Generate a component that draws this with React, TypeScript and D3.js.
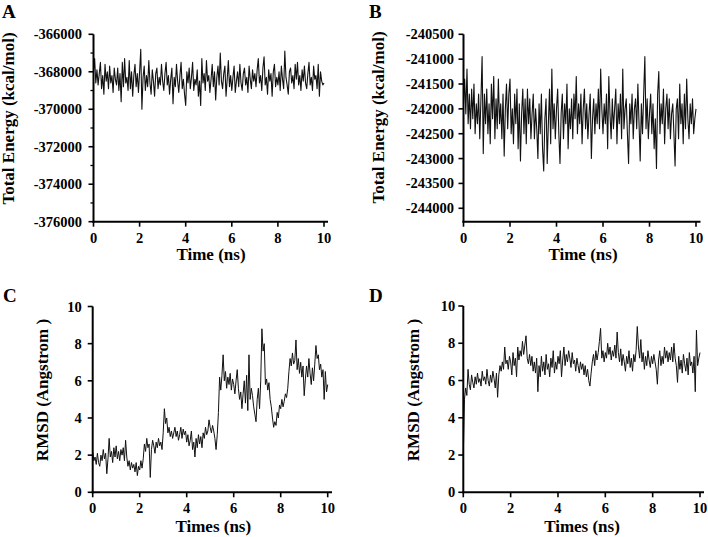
import React from "react";
import * as d3 from "d3";

// ---- Data ----
const TIME_STEP_NS = 0.05;

const energyA = [
  -368000, -367300, -368600, -367900, -368700, -368100, -367500, -368900, -368200, -369200, -367600, -368500, -368000, -368900, -367700, -368600, -368200, -369100, -367800, -368400,
  -368700, -367800, -369000, -368100, -369600, -367500, -368800, -367300, -368600, -368300, -369000, -367400, -368900, -368000, -369300, -368200, -367600, -368800, -368100, -369100,
  -368000, -366800, -370000, -368300, -367700, -369000, -368200, -368800, -367400, -368600, -369200, -367900, -368500, -369300, -368100, -367800, -368900, -368300, -368700, -367600,
  -368500, -369000, -368100, -367500, -368700, -368200, -369200, -368400, -367800, -369700, -368300, -368800, -367600, -368500, -369100, -368200, -367500, -368900, -368400, -369200,
  -369800, -368000, -368600, -367800, -368900, -368300, -367500, -369000, -368400, -368700, -367900, -369300, -368500, -369800, -367300, -368600, -368100, -369000, -367400, -368500,
  -368200, -369100, -368400, -367600, -368800, -368000, -369500, -368300, -367700, -368700, -367000, -368500, -368900, -368100, -367700, -369300, -368400, -367400, -368800, -368200,
  -369000, -368300, -367700, -369100, -368500, -368000, -368800, -367600, -368600, -369000, -368100, -367800, -368700, -368300, -369100, -367700, -368400, -368900, -367900, -368500,
  -368100, -368800, -367900, -367300, -368600, -368200, -369000, -367800, -367200, -368700, -368300, -369200, -367900, -368500, -368100, -369300, -368000, -367600, -368800, -368300,
  -368700, -368000, -369000, -367700, -368400, -368900, -366900, -368300, -368700, -369200, -368000, -367800, -368600, -368200, -368900, -367600, -368400, -367500, -368700, -368200,
  -369000, -367900, -368500, -367700, -368600, -368900, -368100, -367500, -368700, -368300, -369000, -367700, -368400, -368200, -368900, -367600, -369300, -368000, -368500, -368700, -368600,
];

const energyB = [
  -241900, -241400, -242100, -241200, -242300, -241700, -242400, -241600, -242200, -241500, -242500, -241900, -242300, -241700, -242600, -241800, -240950, -242900, -241700, -242300,
  -241600, -242500, -241900, -242700, -241500, -242200, -241350, -242600, -241800, -242400, -241400, -242300, -241900, -242600, -241700, -242950, -242000, -241500, -242400, -241700,
  -241400, -242500, -242000, -242700, -241700, -242300, -241600, -242800, -241900, -243050, -242100, -241600, -242500, -241800, -242700, -241600, -242300, -241800, -242600, -242100,
  -241700, -242600, -242000, -242400, -243000, -241900, -242500, -241700, -242800, -243250, -242200, -241800, -243100, -242300, -241600, -242700, -241200, -242400, -241900, -242600,
  -242000, -241600, -242500, -243100, -242100, -241700, -242600, -241900, -242300, -241500, -242800, -242000, -242400, -241800, -242600, -241700, -242200, -241350, -242500, -241900,
  -242300, -241700, -242700, -242000, -241600, -242400, -241900, -242600, -242100, -241700, -243000, -242200, -241800, -242500, -241900, -242300, -241600, -242400, -241200, -242000,
  -242500, -241900, -242300, -241700, -242800, -241350, -242100, -242600, -241800, -242400, -242000, -241600, -242700, -241900, -242300, -241700, -242600, -241200, -242400, -242000,
  -241800, -242500, -243100, -241900, -242300, -241700, -242600, -242000, -241800, -242400, -241500, -242300, -243050, -241900, -242500, -241700, -240950, -242400, -241800, -242600,
  -242100, -241700, -242500, -241900, -242800, -242200, -243200, -241700, -241250, -242500, -241900, -242300, -241600, -242700, -242000, -241700, -242400, -241800, -242600, -242100,
  -241900, -242500, -243150, -242000, -241800, -242600, -241500, -242300, -241900, -242700, -241700, -242400, -241400, -242200, -242600, -241900, -242300, -241800, -242500, -242200, -242000,
];

const rmsdC = [
  2.2, 1.7, 1.9, 1.5, 2.1, 1.6, 1.4, 2.0, 1.7, 2.3, 1.8, 2.1, 1.0, 1.8, 2.9, 1.9, 2.2, 1.6, 2.4, 1.9,
  2.5, 1.8, 2.2, 1.7, 2.3, 2.0, 2.4, 1.7, 2.8, 1.9, 1.4, 1.7, 1.2, 1.6, 1.3, 1.5, 1.1, 1.6, 0.9, 1.4,
  1.2, 1.7, 1.3, 1.8, 2.6, 2.2, 2.9, 2.4, 2.6, 0.8, 2.3, 2.8, 2.5, 2.1, 2.7, 2.4, 2.9, 2.5, 2.7, 2.3,
  3.2, 4.5, 3.7, 4.0, 3.2, 3.5, 3.0, 3.3, 2.9, 3.2, 3.5, 3.0, 3.3, 2.8, 3.1, 3.5, 2.9, 3.4, 3.1, 3.3,
  2.7, 3.1, 2.5, 2.8, 3.3, 2.3, 2.7, 1.9, 2.9, 2.4, 3.1, 2.6, 3.0, 2.4, 3.2, 2.9, 3.5, 3.1, 3.3, 3.9,
  3.5, 3.2, 3.6, 3.3, 2.9, 2.3, 3.1, 4.3, 6.2, 5.5, 6.3, 7.4, 6.0, 6.5, 5.6, 6.2, 5.8, 6.4, 5.5, 6.1,
  5.8, 5.3, 6.0, 6.6, 5.6, 5.0, 5.4, 4.5, 5.3, 6.0, 4.8, 6.3, 4.4, 7.4, 5.0, 5.6, 5.2, 4.6, 4.2, 3.8,
  5.0, 5.6, 4.5, 6.0, 8.8, 7.6, 8.0, 5.8, 6.1, 5.5, 5.9, 5.0, 4.6, 4.0, 3.5, 3.8, 3.6, 4.3, 4.0, 4.7,
  4.5, 5.0, 4.6, 4.9, 5.3, 5.1, 5.6, 6.5, 7.2, 6.8, 7.5, 6.9, 7.1, 8.2, 6.6, 7.2, 6.4, 7.0, 6.2, 6.8,
  5.2, 6.1, 6.8, 6.2, 7.2, 6.4, 5.8, 6.7, 6.0, 6.9, 7.9, 7.2, 7.4, 6.6, 6.9, 6.2, 6.6, 5.0, 6.5, 5.4, 5.8,
];

const rmsdD = [
  2.0, 5.0, 5.6, 5.2, 6.6, 5.8, 5.5, 6.3, 5.9, 5.6, 6.2, 5.8, 6.4, 5.9, 6.1, 5.7, 6.5, 6.0, 6.2, 5.8,
  6.6, 6.0, 5.7, 6.3, 5.9, 6.5, 6.1, 5.6, 6.4, 5.1, 6.3, 6.8, 6.5, 7.0, 6.6, 7.8, 6.9, 7.1, 6.6, 7.3,
  7.0, 6.3, 7.5, 6.8, 7.2, 6.2, 7.8, 7.1, 7.6, 7.3, 8.1, 7.4, 7.9, 8.4, 7.2, 6.9, 7.4, 6.8, 7.3, 6.5,
  7.0, 6.4, 7.2, 5.4, 6.8, 6.2, 7.3, 6.5, 7.0, 6.3, 7.4, 6.6, 6.9, 6.2, 7.2, 6.7, 7.6, 6.4, 7.0, 6.6,
  7.3, 6.9, 7.6, 6.2, 7.1, 7.8, 6.8, 7.4, 7.0, 7.6, 7.2, 6.7, 7.5, 6.9, 7.1, 6.5, 7.2, 6.8, 6.4, 7.0,
  6.6, 6.9, 6.3, 6.8, 6.2, 6.6, 6.0, 5.7, 6.4, 7.0, 7.4, 6.8, 7.6, 7.1, 7.5, 8.1, 8.8, 7.2, 7.6, 7.0,
  7.5, 7.2, 8.0, 7.4, 7.8, 7.1, 7.6, 7.3, 7.9, 7.2, 8.6, 7.5, 7.0, 7.7, 6.8, 7.4, 7.0, 6.5, 7.3, 6.9,
  7.6, 6.7, 7.2, 6.5, 7.4, 7.0, 7.6, 8.9, 7.8, 7.2, 8.2, 7.0, 7.5, 6.6, 7.3, 6.8, 7.6, 7.1, 6.7, 7.3,
  6.9, 7.4, 7.0, 6.6, 5.8, 7.1, 7.6, 6.8, 7.3, 6.9, 7.8, 7.2, 7.6, 7.0, 7.5, 7.1, 7.8, 7.0, 8.0, 7.2,
  6.8, 5.9, 7.3, 6.6, 7.1, 6.4, 7.4, 6.9, 6.5, 7.2, 6.3, 7.5, 6.8, 7.0, 6.4, 7.3, 5.4, 8.7, 6.8, 7.2, 7.5,
];

const xTicks = [0, 2, 4, 6, 8, 10];
const yTicksA = [-376000, -374000, -372000, -370000, -368000, -366000];
const yMinorA = [-375000, -373000, -371000, -369000, -367000];
const yTicksB = [-244000, -243500, -243000, -242500, -242000, -241500, -241000, -240500];
const yTicksRmsd = [0, 2, 4, 6, 8, 10];

const FONT = "'Liberation Serif', 'Times New Roman', Times, serif";

type PanelProps = {
  letter: string;
  letterX: number;
  letterY: number;
  values: number[];
  yDomain: [number, number];
  yTicks: number[];
  yMinor?: number[];
  xLeft: number;
  xRight: number;
  axisEnd: number;
  yBottom: number;
  yTop: number;
  labelGap: number;
  xLabelY: number;
  xTitle: string;
  xTitleX: number;
  xTitleY: number;
  yTitle: string;
  yTitleX: number;
  yTitleY: number;
  lineWidth: number;
};

function Panel(p: PanelProps) {
  const x = d3.scaleLinear().domain([0, 10]).range([p.xLeft, p.xRight]);
  const y = d3.scaleLinear().domain(p.yDomain).range([p.yBottom, p.yTop]);
  const line = d3
    .line<number>()
    .x((_, i) => x(i * TIME_STEP_NS))
    .y((v) => y(v));
  const topTick = y(p.yTicks[p.yTicks.length - 1]);
  return (
    <g>
      <text x={p.letterX} y={p.letterY} fontFamily={FONT} fontWeight="bold" fontSize={19} fill="#000">
        {p.letter}
      </text>
      <path d={line(p.values) || ""} fill="none" stroke="#111" strokeWidth={p.lineWidth} strokeLinejoin="round" />
      {/* axes */}
      <line x1={p.xLeft} x2={p.xLeft} y1={p.yBottom + 1} y2={topTick} stroke="#000" strokeWidth={2} />
      <line x1={p.xLeft - 1} x2={p.axisEnd} y1={p.yBottom} y2={p.yBottom} stroke="#000" strokeWidth={2} />
      {p.yTicks.map((t) => (
        <g key={"y" + t}>
          <line x1={p.xLeft - 5} x2={p.xLeft} y1={y(t)} y2={y(t)} stroke="#000" strokeWidth={1.6} />
          <text
            x={p.xLeft - p.labelGap}
            y={y(t)}
            dy="0.35em"
            textAnchor="end"
            fontFamily={FONT}
            fontWeight="bold"
            fontSize={14.5}
            fill="#000"
          >
            {t}
          </text>
        </g>
      ))}
      {(p.yMinor || []).map((t) => (
        <line key={"m" + t} x1={p.xLeft - 3} x2={p.xLeft} y1={y(t)} y2={y(t)} stroke="#000" strokeWidth={1.3} />
      ))}
      {xTicks.map((t) => (
        <g key={"x" + t}>
          <line x1={x(t)} x2={x(t)} y1={p.yBottom} y2={p.yBottom + 5} stroke="#000" strokeWidth={1.6} />
          <text
            x={x(t)}
            y={p.xLabelY}
            textAnchor="middle"
            fontFamily={FONT}
            fontWeight="bold"
            fontSize={14.5}
            fill="#000"
          >
            {t}
          </text>
        </g>
      ))}
      <text
        x={p.xTitleX}
        y={p.xTitleY}
        textAnchor="middle"
        fontFamily={FONT}
        fontWeight="bold"
        fontSize={17}
        fill="#000"
      >
        {p.xTitle}
      </text>
      <text
        x={p.yTitleX}
        y={p.yTitleY}
        dy="0.35em"
        textAnchor="middle"
        transform={`rotate(-90, ${p.yTitleX}, ${p.yTitleY})`}
        fontFamily={FONT}
        fontWeight="bold"
        fontSize={17}
        fill="#000"
      >
        {p.yTitle}
      </text>
    </g>
  );
}

export default function App() {
  return (
    <svg
      width={708}
      height={537}
      viewBox="0 0 708 537"
      style={{ position: "absolute", left: 0, top: 0, background: "#fff" }}
    >
      <rect x={0} y={0} width={708} height={537} fill="#fff" />
      <Panel
        letter="A"
        letterX={2}
        letterY={18}
        values={energyA}
        yDomain={[-376000, -366000]}
        yTicks={yTicksA}
        yMinor={yMinorA}
        xLeft={93.5}
        xRight={324}
        axisEnd={328}
        yBottom={221.7}
        yTop={34.3}
        labelGap={11.5}
        xLabelY={243}
        xTitle="Time (ns)"
        xTitleX={211}
        xTitleY={260}
        yTitle="Total Energy (kcal/mol)"
        yTitleX={8.5}
        yTitleY={118.5}
        lineWidth={1.1}
      />
      <Panel
        letter="B"
        letterX={369}
        letterY={18}
        values={energyB}
        yDomain={[-244270, -240500]}
        yTicks={yTicksB}
        xLeft={463.5}
        xRight={696}
        axisEnd={700.5}
        yBottom={221.7}
        yTop={34.3}
        labelGap={9.5}
        xLabelY={243}
        xTitle="Time (ns)"
        xTitleX={583}
        xTitleY={260}
        yTitle="Total Energy (kcal/mol)"
        yTitleX={378}
        yTitleY={117.5}
        lineWidth={1.1}
      />
      <Panel
        letter="C"
        letterX={3}
        letterY={301.7}
        values={rmsdC}
        yDomain={[0, 10]}
        yTicks={yTicksRmsd}
        xLeft={92.7}
        xRight={327.7}
        axisEnd={332}
        yBottom={492.3}
        yTop={306.5}
        labelGap={11}
        xLabelY={513.3}
        xTitle="Times (ns)"
        xTitleX={213.3}
        xTitleY={531.5}
        yTitle="RMSD (Angstrom )"
        yTitleX={42.5}
        yTitleY={390}
        lineWidth={1}
      />
      <Panel
        letter="D"
        letterX={369}
        letterY={301.7}
        values={rmsdD}
        yDomain={[0, 10]}
        yTicks={yTicksRmsd}
        xLeft={463.3}
        xRight={700}
        axisEnd={704}
        yBottom={492.3}
        yTop={306}
        labelGap={8}
        xLabelY={513.3}
        xTitle="Times (ns)"
        xTitleX={582}
        xTitleY={531.5}
        yTitle="RMSD (Angstrom )"
        yTitleX={413}
        yTitleY={390}
        lineWidth={1}
      />
    </svg>
  );
}
